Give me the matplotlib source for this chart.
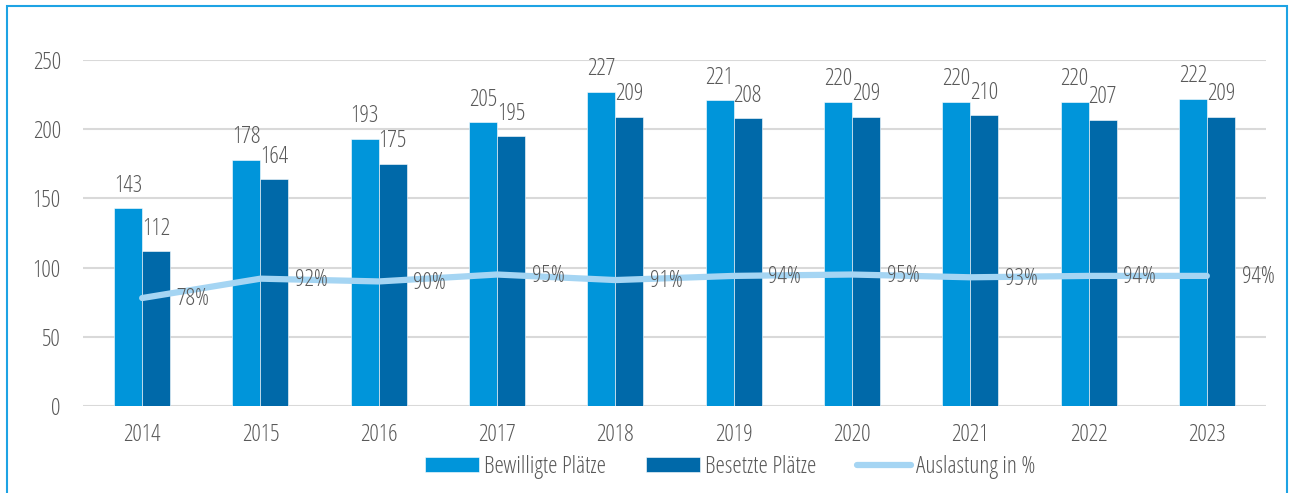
import matplotlib
matplotlib.use("Agg")
import matplotlib.pyplot as plt
from matplotlib.patches import Rectangle
import numpy as np

years = ["2014", "2015", "2016", "2017", "2018", "2019", "2020", "2021", "2022", "2023"]
bewilligt = [143, 178, 193, 205, 227, 221, 220, 220, 220, 222]
besetzt = [112, 164, 175, 195, 209, 208, 209, 210, 207, 209]
auslastung = [78, 92, 90, 95, 91, 94, 95, 93, 94, 94]

C1 = "#0095da"
C2 = "#0069a9"
CL = "#a5d5f3"
TXT = "#595959"
GRID = "#d9d9d9"

plt.rcParams['font.family'] = ['Open Sans', 'DejaVu Sans']
plt.rcParams['font.stretch'] = 'condensed'
plt.rcParams['font.weight'] = 300
FS = 17

fig = plt.figure(figsize=(12.93, 4.93), dpi=100)
ax = fig.add_axes([83/1293, 1 - 406/493, (1266-83)/1293, (406-60)/493])

x = np.arange(len(years))
w = 0.237
b1 = ax.bar(x - w/2, bewilligt, w, color=C1, edgecolor="white", linewidth=0.4, label="Bewilligte Plätze", zorder=2)
b2 = ax.bar(x + w/2, besetzt, w, color=C2, edgecolor="white", linewidth=0.4, label="Besetzte Plätze", zorder=2)
ln, = ax.plot(x, auslastung, color=CL, lw=4.5, solid_capstyle="round", solid_joinstyle="round", label="Auslastung in %", zorder=3)

for xi, v in zip(x, bewilligt):
    ax.annotate(str(v), (xi - w/2, v), xytext=(0, 7.5), textcoords="offset points",
                ha="center", va="bottom", fontsize=FS, color=TXT, zorder=4)
for xi, v in zip(x, besetzt):
    ax.annotate(str(v), (xi + w/2, v), xytext=(0, 7.5), textcoords="offset points",
                ha="center", va="bottom", fontsize=FS, color=TXT, zorder=4)
for xi, v in zip(x, auslastung):
    ax.annotate(f"{v}%", (xi, v), xytext=(25, -1), textcoords="offset points",
                ha="left", va="center", fontsize=FS, color=TXT, zorder=4)

ax.set_xlim(-0.5, len(years) - 0.5)
ax.set_ylim(0, 250)
ax.set_yticks([0, 50, 100, 150, 200, 250])
ax.set_xticks(x)
ax.set_xticklabels(years)
ax.tick_params(axis="both", length=0, labelsize=FS, colors=TXT)
ax.tick_params(axis="y", pad=16)
ax.tick_params(axis="x", pad=12)
ax.yaxis.grid(True, color=GRID, lw=1.5, zorder=0)
ax.set_axisbelow(True)
for s in ax.spines.values():
    s.set_visible(False)

leg = fig.legend(handles=[b1, b2, ln], loc="center", bbox_to_anchor=(730/1293, 1 - 467/493),
                 ncol=3, frameon=False, fontsize=FS, handlelength=2.3, handleheight=0.6,
                 columnspacing=1.7, handletextpad=0.2, labelcolor=TXT)

fig.patches.append(Rectangle((7/1293, -0.01), (1287-7)/1293, 1 - 6/493 + 0.01,
                             transform=fig.transFigure, fill=False,
                             edgecolor="#1ea3e4", lw=1.5))

fig.savefig("out.png", dpi=100)
